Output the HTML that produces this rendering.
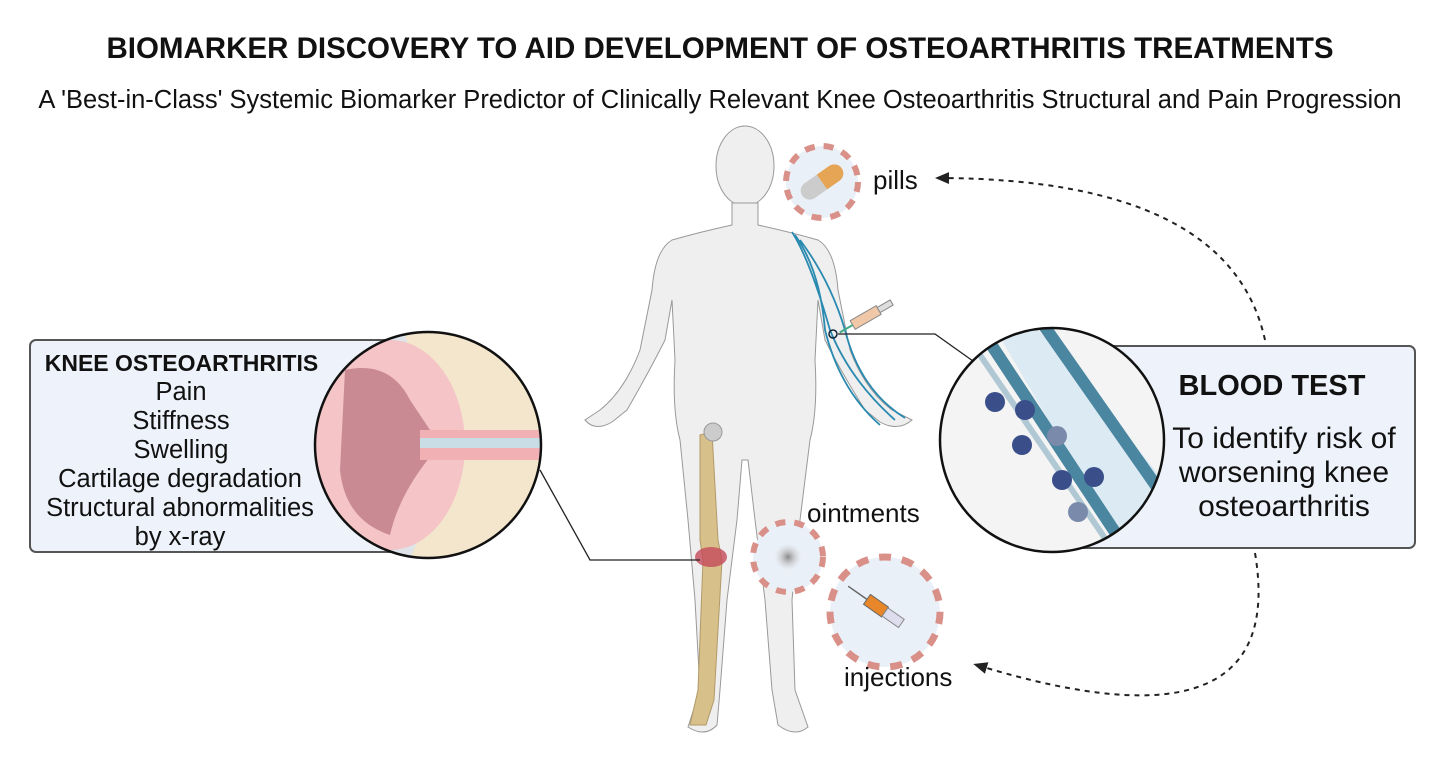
<!DOCTYPE html>
<html><head><meta charset="utf-8"><style>
html,body{margin:0;padding:0;background:#fff;}
svg{display:block;font-family:"Liberation Sans",sans-serif;}
</style></head><body>
<svg width="1440" height="766" viewBox="0 0 1440 766" xmlns="http://www.w3.org/2000/svg">
<defs>
<marker id="ah" markerUnits="userSpaceOnUse" markerWidth="14" markerHeight="14" refX="7" refY="7" orient="auto"><path d="M0,1 L14,7 L0,13 Z" fill="#222"/></marker>
<radialGradient id="og"><stop offset="0" stop-color="#888"/><stop offset="1" stop-color="#ddd" stop-opacity="0"/></radialGradient>
<clipPath id="lc"><circle cx="428" cy="445" r="113"/></clipPath>
<clipPath id="rc"><circle cx="1052" cy="440" r="112"/></clipPath>
</defs>
<text x="720" y="58" text-anchor="middle" font-size="29.5" font-weight="bold" fill="#111">BIOMARKER DISCOVERY TO AID DEVELOPMENT OF OSTEOARTHRITIS TREATMENTS</text>
<text x="720" y="108" text-anchor="middle" font-size="25.5" fill="#111">A 'Best-in-Class' Systemic Biomarker Predictor of Clinically Relevant Knee Osteoarthritis Structural and Pain Progression</text>

<!-- body -->
<ellipse cx="745" cy="166" rx="29" ry="40" fill="#efefef" stroke="#999"/>
<path d="M732,203 L732,225 Q700,232 672,240 Q655,250 652,290 L640,350 Q625,390 600,410 L585,420 Q595,432 612,422 L627,410 Q650,370 665,340 L672,300 L675,360 Q672,410 680,440 L688,520 L695,600 L700,690 L688,727 Q705,738 717,725 L720,690 L727,600 L737,520 L742,460 L748,460 L755,520 L765,600 L772,690 L778,725 Q795,738 808,727 L795,690 L792,600 L800,520 L810,440 Q818,410 815,360 L818,300 L825,340 Q840,370 865,410 L880,422 Q898,432 912,420 L892,410 Q865,390 850,350 L838,290 Q835,250 818,240 Q790,232 758,225 L758,203 Z" fill="#efefef" stroke="#999"/>
<path d="M792,232 Q810,260 830,330 Q850,380 895,420 M795,235 Q820,270 825,330 Q840,390 880,425 M800,240 Q830,280 845,330 Q860,390 905,418" fill="none" stroke="#2a8ab0" stroke-width="1.8"/>
<path d="M700,435 L712,432 L718,540 L722,560 L714,700 L706,725 L690,725 L698,690 L703,560 L700,540 Z" fill="#d8c08a" stroke="#b09a6a"/>
<circle cx="713" cy="432" r="9" fill="#ccc" stroke="#999"/>
<ellipse cx="711" cy="557" rx="16" ry="10" fill="#c44a5a" opacity="0.8"/>

<g transform="translate(870,315) rotate(-30)"><rect x="-20" y="-5" width="30" height="10" fill="#f0c8a8" stroke="#888"/><rect x="10" y="-3" width="15" height="6" fill="#ddd" stroke="#888"/><line x1="-20" y1="0" x2="-35" y2="0" stroke="#4a8" stroke-width="2"/></g>
<circle cx="833" cy="334" r="4" fill="none" stroke="#123" stroke-width="1.5"/>

<polyline points="838,334 935,334 980,366" fill="none" stroke="#222" stroke-width="1.3"/>
<polyline points="540,470 590,560 700,560" fill="none" stroke="#222" stroke-width="1.3"/>

<rect x="30" y="340" width="372" height="212" rx="6" fill="#eef3fb" stroke="#555" stroke-width="2"/>
<text text-anchor="middle" font-size="25.5" fill="#111">
<tspan x="185" y="371" font-weight="bold" font-size="23">KNEE OSTEOARTHRITIS</tspan>
<tspan x="181" y="400">Pain</tspan><tspan x="181" y="429">Stiffness</tspan><tspan x="181" y="458">Swelling</tspan><tspan x="180" y="487">Cartilage degradation</tspan><tspan x="180" y="516">Structural  abnormalities</tspan><tspan x="180" y="545">by x-ray</tspan></text>
<g clip-path="url(#lc)">
<rect x="300" y="320" width="260" height="260" fill="#dfe4ea"/>
<path d="M400,320 L560,320 L560,580 L400,580 Q430,520 440,460 Q420,380 400,320Z" fill="#f3e6cc"/>
<ellipse cx="390" cy="445" rx="75" ry="105" fill="#f4c4c6"/>
<path d="M345,370 Q390,360 410,400 L440,445 Q400,490 390,535 Q345,520 340,470 Z" fill="#c98a94"/>
<rect x="420" y="430" width="140" height="30" fill="#f0b0b4"/>
<rect x="420" y="438" width="140" height="10" fill="#c8dde6"/>
</g>
<circle cx="428" cy="445" r="113" fill="none" stroke="#111" stroke-width="2.5"/>

<rect x="1040" y="346" width="375" height="202" rx="6" fill="#eef3fb" stroke="#555" stroke-width="2"/>
<g clip-path="url(#rc)">
<rect x="930" y="320" width="250" height="250" fill="#f4f4f4"/>
<polygon points="990,320 1030,320 1180,500 1180,560 1130,560" fill="#dceaf4"/>
<line x1="975" y1="320" x2="1140" y2="570" stroke="#4a86a0" stroke-width="12"/>
<line x1="1040" y1="320" x2="1180" y2="520" stroke="#4a86a0" stroke-width="12"/>
<line x1="963" y1="330" x2="1130" y2="575" stroke="#b0c8d4" stroke-width="6"/>
<circle cx="995" cy="402" r="10" fill="#3a4f8a"/><circle cx="1025" cy="410" r="10" fill="#3a4f8a"/>
<circle cx="1022" cy="445" r="10" fill="#3a4f8a"/><circle cx="1057" cy="436" r="10" fill="#7a8aaa"/>
<circle cx="1062" cy="480" r="10" fill="#3a4f8a"/><circle cx="1094" cy="477" r="10" fill="#3a4f8a"/>
<circle cx="1078" cy="512" r="10" fill="#7a8aaa"/>
</g>
<circle cx="1052" cy="440" r="112" fill="none" stroke="#111" stroke-width="2.5"/>
<text x="1272" y="395" text-anchor="middle" font-size="29" font-weight="bold" fill="#111">BLOOD TEST</text>
<text text-anchor="middle" font-size="30" fill="#111"><tspan x="1284" y="448">To identify risk of</tspan><tspan x="1284" y="482">worsening knee</tspan><tspan x="1284" y="516">osteoarthritis</tspan></text>

<circle cx="822" cy="182" r="36" fill="#eaf0f8" stroke="#d99088" stroke-width="6" stroke-dasharray="10,9"/>
<g transform="translate(822,182) rotate(-35)"><rect x="-24" y="-9" width="48" height="18" rx="9" fill="#ccc"/><path d="M0,-9 L15,-9 A9,9 0 0 1 15,9 L0,9Z" fill="#e6a555"/></g>
<text x="873" y="189" font-size="26" fill="#111">pills</text>

<circle cx="788" cy="557" r="35" fill="#eaf0f8" stroke="#d99088" stroke-width="6" stroke-dasharray="10,9"/>
<circle cx="788" cy="557" r="14" fill="url(#og)"/>
<text x="807" y="522" font-size="26" fill="#111">ointments</text>

<circle cx="885" cy="612" r="55" fill="#eaf0f8" stroke="#d99088" stroke-width="7" stroke-dasharray="12,11"/>
<g transform="translate(885,612) rotate(35)"><line x1="-45" y1="0" x2="-22" y2="0" stroke="#666" stroke-width="1.5"/><rect x="-22" y="-6" width="22" height="12" fill="#e8872a" stroke="#666"/><rect x="0" y="-5" width="20" height="10" fill="#dde" stroke="#888"/></g>
<text x="844" y="686" font-size="26" fill="#111">injections</text>

<path d="M1265,340 Q1230,180 942,178" fill="none" stroke="#222" stroke-width="2" stroke-dasharray="5,5" marker-end="url(#ah)"/>
<path d="M1255,553 Q1290,760 980,666" fill="none" stroke="#222" stroke-width="2" stroke-dasharray="5,5" marker-end="url(#ah)"/>
</svg>
</body></html>
